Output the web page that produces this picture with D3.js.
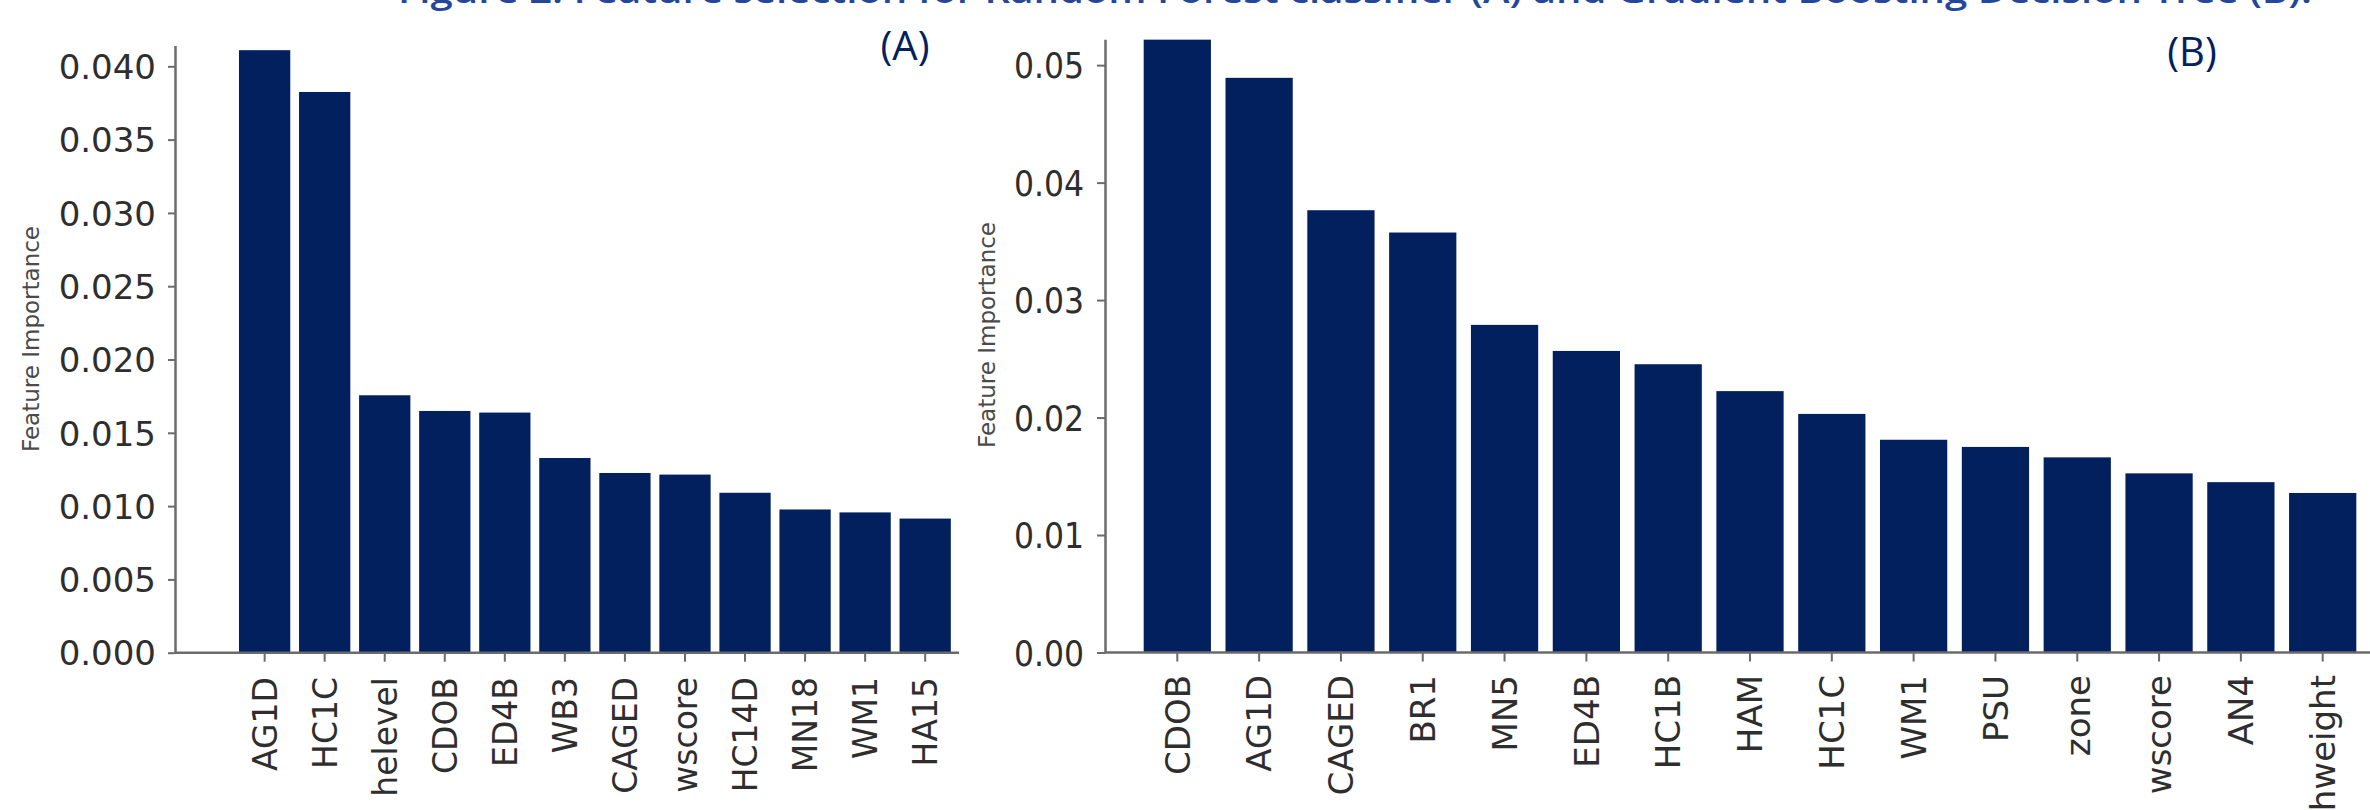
<!DOCTYPE html>
<html>
<head>
<meta charset="utf-8">
<script src="https://cdn.jsdelivr.net/npm/d3@7"></script>
<style>
  html, body { margin: 0; padding: 0; background: #ffffff; }
  svg { display: block; }
</style>
</head>
<body>
<svg id="chart" width="2370" height="810"></svg>
<script>
// ---------- data ----------
const titleText = "Figure 2: Feature selection for Random Forest classifier (A) and Gradient Boosting Decision Tree (B).";
const panelLabels = ["(A)", "(B)"];
const yLabel = "Feature Importance";

const catsA = ["AG1D", "HC1C", "helevel", "CDOB", "ED4B", "WB3", "CAGED", "wscore", "HC14D", "MN18", "WM1", "HA15"];
const valsA = [0.04110, 0.03825, 0.01756, 0.01649, 0.01638, 0.01328, 0.01226, 0.01215, 0.01091, 0.00977, 0.00957, 0.00915];
const ticksA = [0, 0.005, 0.010, 0.015, 0.020, 0.025, 0.030, 0.035, 0.040];

const catsB = ["CDOB", "AG1D", "CAGED", "BR1", "MN5", "ED4B", "HC1B", "HAM", "HC1C", "WM1", "PSU", "zone", "wscore", "AN4", "hweight"];
const valsB = [0.05217, 0.04892, 0.03765, 0.03575, 0.02789, 0.02567, 0.02454, 0.02225, 0.02031, 0.01811, 0.01750, 0.01661, 0.01525, 0.01450, 0.01358];
const ticksB = [0, 0.01, 0.02, 0.03, 0.04, 0.05];

// ---------- style ----------
const barColor = "#02205e";
const axisColor = "#6b6b6b";
const textColor = "#2e2e2e";
const navy = "#002060";

const svg = d3.select("#chart");

// title (cropped at top of the picture, as in the reference)
svg.append("text")
  .attr("x", 398).attr("y", 3)
  .attr("font-family", "Open Sans, Noto Sans, sans-serif")
  .attr("font-size", 34)
  .attr("font-weight", 600)
  .attr("fill", "#24479a")
  .attr("textLength", 1914)
  .attr("lengthAdjust", "spacingAndGlyphs")
  .text(titleText);

function panel(cfg) {
  const g = svg.append("g");
  const x = d3.scaleBand().domain(cfg.cats).range(cfg.xRange)
    .paddingInner(cfg.pad).paddingOuter(cfg.pad / 2);
  const y = d3.scaleLinear().domain([0, cfg.yTop]).range([cfg.y0, cfg.yTopPx]);

  // bars
  g.selectAll("rect.bar").data(cfg.cats.map((c, i) => ({c, v: cfg.vals[i]})))
    .enter().append("rect")
    .attr("class", "bar")
    .attr("x", d => x(d.c))
    .attr("width", x.bandwidth())
    .attr("y", d => y(d.v))
    .attr("height", d => y(0) - y(d.v))
    .attr("fill", barColor);

  // y axis
  const ya = g.append("g")
    .attr("transform", `translate(${cfg.axisX},0)`)
    .call(d3.axisLeft(y).tickValues(cfg.ticks).tickFormat(d3.format(cfg.fmt))
      .tickSize(cfg.yTick).tickSizeOuter(0).tickPadding(cfg.yPad));
  ya.select(".domain").attr("stroke", axisColor).attr("stroke-width", 2.5);
  ya.selectAll(".tick line").attr("stroke", axisColor).attr("stroke-width", 2);
  ya.selectAll(".tick text")
    .attr("fill", textColor)
    .attr("font-family", cfg.yFont)
    .attr("font-size", cfg.yFontSize)
    .attr("dy", "0.36em");

  // x axis
  const xa = g.append("g")
    .attr("transform", `translate(0,${cfg.y0})`)
    .call(d3.axisBottom(x).tickSize(9).tickSizeOuter(0));
  xa.select(".domain").remove();
  xa.insert("line", ":first-child")
    .attr("x1", cfg.axisX).attr("x2", cfg.xEnd)
    .attr("y1", 0).attr("y2", 0)
    .attr("stroke", axisColor).attr("stroke-width", 2.5);
  xa.selectAll(".tick line").attr("stroke", axisColor).attr("stroke-width", 2);
  xa.selectAll(".tick text")
    .attr("fill", textColor)
    .attr("font-family", "DejaVu Sans, sans-serif")
    .attr("font-size", cfg.xFontSize)
    .attr("transform", "rotate(-90)")
    .attr("text-anchor", "end")
    .attr("x", -(cfg.labelTop - cfg.y0))
    .attr("y", 0)
    .attr("dy", "0.36em");

  // y label
  g.append("text")
    .attr("transform", `translate(${cfg.ylabX},${cfg.ylabY}) rotate(-90)`)
    .attr("text-anchor", "middle")
    .attr("font-family", "DejaVu Sans, sans-serif")
    .attr("font-size", 23)
    .attr("fill", "#4a4a4a")
    .text(yLabel);

  // panel letter
  g.append("text")
    .attr("x", cfg.letterX).attr("y", cfg.letterY)
    .attr("text-anchor", "middle")
    .attr("font-family", "Open Sans, Noto Sans, sans-serif")
    .attr("font-size", 40)
    .attr("fill", navy)
    .text(cfg.letter);
}

panel({
  cats: catsA, vals: valsA, ticks: ticksA, fmt: ".3f",
  xRange: [234.6, 955.2], pad: 0.146,
  yTop: 0.04142, y0: 652.7, yTopPx: 45.5,
  axisX: 175, xEnd: 959, yTick: 7, yPad: 12,
  yFont: "DejaVu Sans, sans-serif", yFontSize: 34,
  xFontSize: 33,
  labelTop: 677,
  ylabX: 39, ylabY: 339,
  letter: panelLabels[0], letterX: 905, letterY: 60
});

panel({
  cats: catsB, vals: valsB, ticks: ticksB, fmt: ".2f",
  xRange: [1136.4, 2363.6], pad: 0.178,
  yTop: 0.0522, y0: 652.5, yTopPx: 39.3,
  axisX: 1105, xEnd: 2370, yTick: 8, yPad: 13,
  yFont: "DejaVu Sans Condensed, DejaVu Sans, sans-serif", yFontSize: 35,
  xFontSize: 34,
  labelTop: 675,
  ylabX: 995, ylabY: 335,
  letter: panelLabels[1], letterX: 2192, letterY: 66
});
</script>
</body>
</html>
